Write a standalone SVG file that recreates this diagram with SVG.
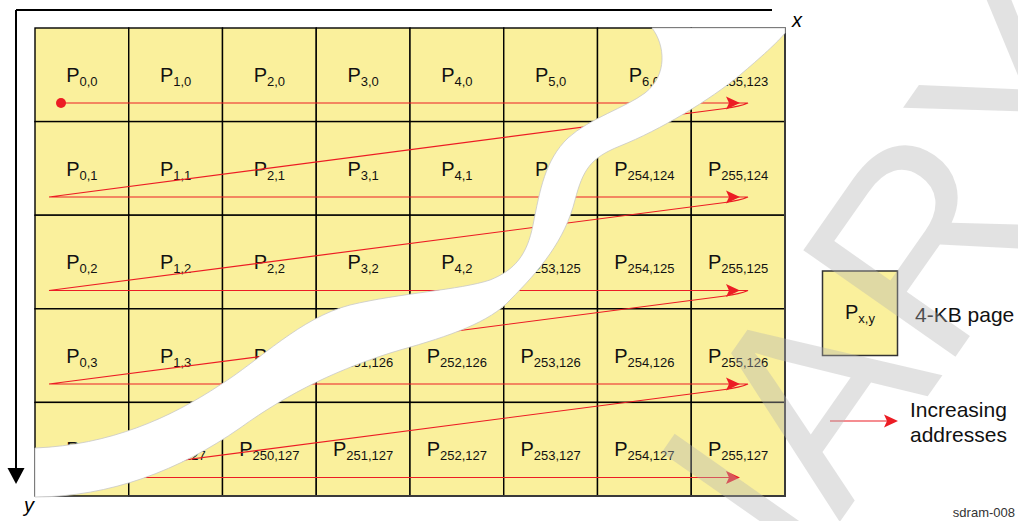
<svg xmlns="http://www.w3.org/2000/svg" width="1018" height="521" viewBox="0 0 1018 521">
<defs>
<style>
.cell rect{fill:#faf09c;stroke:#000;stroke-width:1.4}
.lbl{font-family:"Liberation Sans",Arial,sans-serif;font-size:20px;fill:#111;text-anchor:middle}
.sub{font-size:13px}
.red{fill:none;stroke:#ec1c24;stroke-width:1.2}
.ahd{fill:#ec1c24}
.ax{fill:none;stroke:#000;stroke-width:2}
.it{font-family:"Liberation Sans",Arial,sans-serif;font-size:20px;font-style:italic;fill:#000}
.leg{font-family:"Liberation Sans",Arial,sans-serif;font-size:21px;fill:#111}
.wm{font-family:"Liberation Sans",Arial,sans-serif;font-size:270px;fill:#b4b4b4;fill-opacity:0.38}
</style>
<path id="ah" d="M0,0 L-14,-6.5 L-11,0 L-14,6.5 Z"/>
</defs>
<rect width="1018" height="521" fill="#fff"/>

<g id="axes">
<path class="ax" d="M16,10 H772 M16,10 V470"/>
<polygon points="7.5,468 24.5,468 16,484" fill="#000"/>
<text class="it" x="792" y="27">x</text>
<text class="it" x="24" y="512">y</text>
</g>

<g id="grid">
<g id="p-0-0" class="cell"><rect x="35" y="28" width="93.75" height="93.6"/><text class="lbl" x="81.9" y="82">P<tspan class="sub" dy="4">0,0</tspan></text></g>
<g id="p-1-0" class="cell"><rect x="128.75" y="28" width="93.75" height="93.6"/><text class="lbl" x="175.6" y="82">P<tspan class="sub" dy="4">1,0</tspan></text></g>
<g id="p-2-0" class="cell"><rect x="222.5" y="28" width="93.75" height="93.6"/><text class="lbl" x="269.4" y="82">P<tspan class="sub" dy="4">2,0</tspan></text></g>
<g id="p-3-0" class="cell"><rect x="316.25" y="28" width="93.75" height="93.6"/><text class="lbl" x="363.1" y="82">P<tspan class="sub" dy="4">3,0</tspan></text></g>
<g id="p-4-0" class="cell"><rect x="410" y="28" width="93.75" height="93.6"/><text class="lbl" x="456.9" y="82">P<tspan class="sub" dy="4">4,0</tspan></text></g>
<g id="p-5-0" class="cell"><rect x="503.75" y="28" width="93.75" height="93.6"/><text class="lbl" x="550.6" y="82">P<tspan class="sub" dy="4">5,0</tspan></text></g>
<g id="p-6-0" class="cell"><rect x="597.5" y="28" width="93.75" height="93.6"/><text class="lbl" x="644.4" y="82">P<tspan class="sub" dy="4">6,0</tspan></text></g>
<g id="p-255-123" class="cell"><rect x="691.25" y="28" width="93.75" height="93.6"/><text class="lbl" x="738.1" y="82">P<tspan class="sub" dy="4">255,123</tspan></text></g>
<g id="p-0-1" class="cell"><rect x="35" y="121.6" width="93.75" height="93.6"/><text class="lbl" x="81.9" y="175.6">P<tspan class="sub" dy="4">0,1</tspan></text></g>
<g id="p-1-1" class="cell"><rect x="128.75" y="121.6" width="93.75" height="93.6"/><text class="lbl" x="175.6" y="175.6">P<tspan class="sub" dy="4">1,1</tspan></text></g>
<g id="p-2-1" class="cell"><rect x="222.5" y="121.6" width="93.75" height="93.6"/><text class="lbl" x="269.4" y="175.6">P<tspan class="sub" dy="4">2,1</tspan></text></g>
<g id="p-3-1" class="cell"><rect x="316.25" y="121.6" width="93.75" height="93.6"/><text class="lbl" x="363.1" y="175.6">P<tspan class="sub" dy="4">3,1</tspan></text></g>
<g id="p-4-1" class="cell"><rect x="410" y="121.6" width="93.75" height="93.6"/><text class="lbl" x="456.9" y="175.6">P<tspan class="sub" dy="4">4,1</tspan></text></g>
<g id="p-5-1" class="cell"><rect x="503.75" y="121.6" width="93.75" height="93.6"/><text class="lbl" x="550.6" y="175.6">P<tspan class="sub" dy="4">5,1</tspan></text></g>
<g id="p-254-124" class="cell"><rect x="597.5" y="121.6" width="93.75" height="93.6"/><text class="lbl" x="644.4" y="175.6">P<tspan class="sub" dy="4">254,124</tspan></text></g>
<g id="p-255-124" class="cell"><rect x="691.25" y="121.6" width="93.75" height="93.6"/><text class="lbl" x="738.1" y="175.6">P<tspan class="sub" dy="4">255,124</tspan></text></g>
<g id="p-0-2" class="cell"><rect x="35" y="215.2" width="93.75" height="93.6"/><text class="lbl" x="81.9" y="269.2">P<tspan class="sub" dy="4">0,2</tspan></text></g>
<g id="p-1-2" class="cell"><rect x="128.75" y="215.2" width="93.75" height="93.6"/><text class="lbl" x="175.6" y="269.2">P<tspan class="sub" dy="4">1,2</tspan></text></g>
<g id="p-2-2" class="cell"><rect x="222.5" y="215.2" width="93.75" height="93.6"/><text class="lbl" x="269.4" y="269.2">P<tspan class="sub" dy="4">2,2</tspan></text></g>
<g id="p-3-2" class="cell"><rect x="316.25" y="215.2" width="93.75" height="93.6"/><text class="lbl" x="363.1" y="269.2">P<tspan class="sub" dy="4">3,2</tspan></text></g>
<g id="p-4-2" class="cell"><rect x="410" y="215.2" width="93.75" height="93.6"/><text class="lbl" x="456.9" y="269.2">P<tspan class="sub" dy="4">4,2</tspan></text></g>
<g id="p-253-125" class="cell"><rect x="503.75" y="215.2" width="93.75" height="93.6"/><text class="lbl" x="550.6" y="269.2">P<tspan class="sub" dy="4">253,125</tspan></text></g>
<g id="p-254-125" class="cell"><rect x="597.5" y="215.2" width="93.75" height="93.6"/><text class="lbl" x="644.4" y="269.2">P<tspan class="sub" dy="4">254,125</tspan></text></g>
<g id="p-255-125" class="cell"><rect x="691.25" y="215.2" width="93.75" height="93.6"/><text class="lbl" x="738.1" y="269.2">P<tspan class="sub" dy="4">255,125</tspan></text></g>
<g id="p-0-3" class="cell"><rect x="35" y="308.8" width="93.75" height="93.6"/><text class="lbl" x="81.9" y="362.8">P<tspan class="sub" dy="4">0,3</tspan></text></g>
<g id="p-1-3" class="cell"><rect x="128.75" y="308.8" width="93.75" height="93.6"/><text class="lbl" x="175.6" y="362.8">P<tspan class="sub" dy="4">1,3</tspan></text></g>
<g id="p-2-3" class="cell"><rect x="222.5" y="308.8" width="93.75" height="93.6"/><text class="lbl" x="269.4" y="362.8">P<tspan class="sub" dy="4">2,3</tspan></text></g>
<g id="p-251-126" class="cell"><rect x="316.25" y="308.8" width="93.75" height="93.6"/><text class="lbl" x="363.1" y="362.8">P<tspan class="sub" dy="4">251,126</tspan></text></g>
<g id="p-252-126" class="cell"><rect x="410" y="308.8" width="93.75" height="93.6"/><text class="lbl" x="456.9" y="362.8">P<tspan class="sub" dy="4">252,126</tspan></text></g>
<g id="p-253-126" class="cell"><rect x="503.75" y="308.8" width="93.75" height="93.6"/><text class="lbl" x="550.6" y="362.8">P<tspan class="sub" dy="4">253,126</tspan></text></g>
<g id="p-254-126" class="cell"><rect x="597.5" y="308.8" width="93.75" height="93.6"/><text class="lbl" x="644.4" y="362.8">P<tspan class="sub" dy="4">254,126</tspan></text></g>
<g id="p-255-126" class="cell"><rect x="691.25" y="308.8" width="93.75" height="93.6"/><text class="lbl" x="738.1" y="362.8">P<tspan class="sub" dy="4">255,126</tspan></text></g>
<g id="p-0-4" class="cell"><rect x="35" y="402.4" width="93.75" height="93.6"/><text class="lbl" x="81.9" y="456.4">P<tspan class="sub" dy="4">0,4</tspan></text></g>
<g id="p-249-127" class="cell"><rect x="128.75" y="402.4" width="93.75" height="93.6"/><text class="lbl" x="175.6" y="456.4">P<tspan class="sub" dy="4">249,127</tspan></text></g>
<g id="p-250-127" class="cell"><rect x="222.5" y="402.4" width="93.75" height="93.6"/><text class="lbl" x="269.4" y="456.4">P<tspan class="sub" dy="4">250,127</tspan></text></g>
<g id="p-251-127" class="cell"><rect x="316.25" y="402.4" width="93.75" height="93.6"/><text class="lbl" x="363.1" y="456.4">P<tspan class="sub" dy="4">251,127</tspan></text></g>
<g id="p-252-127" class="cell"><rect x="410" y="402.4" width="93.75" height="93.6"/><text class="lbl" x="456.9" y="456.4">P<tspan class="sub" dy="4">252,127</tspan></text></g>
<g id="p-253-127" class="cell"><rect x="503.75" y="402.4" width="93.75" height="93.6"/><text class="lbl" x="550.6" y="456.4">P<tspan class="sub" dy="4">253,127</tspan></text></g>
<g id="p-254-127" class="cell"><rect x="597.5" y="402.4" width="93.75" height="93.6"/><text class="lbl" x="644.4" y="456.4">P<tspan class="sub" dy="4">254,127</tspan></text></g>
<g id="p-255-127" class="cell"><rect x="691.25" y="402.4" width="93.75" height="93.6"/><text class="lbl" x="738.1" y="456.4">P<tspan class="sub" dy="4">255,127</tspan></text></g>
<path d="M785,28 V496 H128" fill="none" stroke="#3a3a3a" stroke-width="2"/>
</g>

<g id="connectors">
<path class="red" d="M61,103 H748 C742,105.5 736,107 725,108.5 L49,197 H748 C742,199.5 736,201 725,202.5 L49,290.5 H748 C742,293 736,294.5 725,296 L49,384 H748 C742,386.5 736,388 725,389.5 L49,477.5 H738"/>
<circle cx="61" cy="103" r="5" fill="#ec1c24"/>
<use href="#ah" class="ahd" x="740" y="103"/>
<use href="#ah" class="ahd" x="740" y="197"/>
<use href="#ah" class="ahd" x="740" y="290.5"/>
<use href="#ah" class="ahd" x="740" y="384"/>
<use href="#ah" class="ahd" x="740" y="477.5"/>
</g>

<g id="break">
<path d="M652,28 C665,45 668,75 645,93 C625,108 590,118 568,138 C545,160 540,190 533,225 C527,255 515,270 490,280 C460,290 400,293 350,305 C300,318 260,360 220,385 C170,418 110,445 35,448 L35,497 C110,497 180,470 240,428 C290,392 340,368 400,350 C450,336 490,322 510,300 C540,270 565,240 575,200 C583,170 590,158 620,146 C660,130 710,100 740,75 C760,58 778,42 785,33 L785,28 Z" fill="#fff" stroke="#c8c8c8" stroke-width="0.8"/>
</g>

<g id="legend-page">
<rect x="822.5" y="271" width="75" height="84.5" fill="#faf09c" stroke="#333" stroke-width="1.5"/>
<text class="lbl" x="860" y="319">P<tspan class="sub" dy="4">x,y</tspan></text>
<text class="leg" x="915" y="322">4-KB page</text>
</g>

<g id="legend-arrow">
<line x1="830" y1="421" x2="890" y2="421" stroke="#ec1c24" stroke-width="1.2"/>
<use href="#ah" class="ahd" x="898" y="421"/>
<text class="leg" x="910" y="417">Increasing</text>
<text class="leg" x="910" y="442">addresses</text>
</g>

<text x="1015" y="517" text-anchor="end" font-family="Liberation Sans, Arial, sans-serif" font-size="13" fill="#333">sdram-008</text>

<text class="wm" x="108" y="1567" transform="rotate(-55 108 1567)">PRELIMINARY</text>
</svg>
